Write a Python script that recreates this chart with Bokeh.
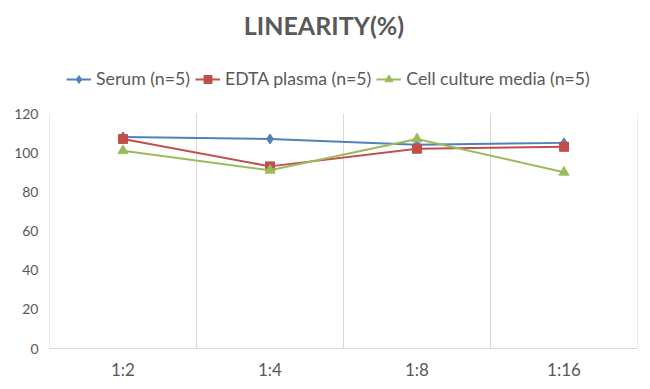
from bokeh.plotting import figure
from bokeh.models import Legend, LegendItem, FixedTicker, Label
from bokeh.embed import file_html
from bokeh.resources import INLINE

categories = ["1:2", "1:4", "1:8", "1:16"]
serum = [108, 107, 104, 105]
edta = [107, 93, 102, 103]
cell = [101, 91, 107, 90]
series_names = ["Serum (n=5)", "EDTA plasma (n=5)", "Cell culture media (n=5)"]
y_ticks = [0, 20, 40, 60, 80, 100, 120]
title_text = "LINEARITY(%)"

FONT = "Lato"
GRAY = "#595959"
GRID = "#D9D9D9"

n = len(categories)
xs = [i + 0.5 for i in range(n)]
bounds = list(range(n + 1))

# frame spans the whole height; the value axis occupies the lower 235 px of 348 px
PLOT_H, VALUE_H = 348, 235
y_top = y_ticks[-1] * PLOT_H / VALUE_H

p = figure(width=645, height=382, x_range=(0, n), y_range=(0, y_top),
           output_backend="svg", toolbar_location=None,
           min_border_left=49, min_border_right=8, min_border_bottom=34, min_border_top=0)
p.outline_line_color = None
p.background_fill_color = "white"
p.border_fill_color = "white"

p.xgrid.grid_line_color = None
p.ygrid.grid_line_color = None
# category separators limited to the value range
p.segment(x0=bounds, y0=[y_ticks[0]] * len(bounds), x1=bounds, y1=[y_ticks[-1]] * len(bounds),
          line_color=GRID, line_width=1)

p.xaxis.ticker = FixedTicker(ticks=xs)
p.xaxis.major_label_overrides = {x: c for x, c in zip(xs, categories)}
p.yaxis.ticker = FixedTicker(ticks=y_ticks)
p.yaxis.bounds = (y_ticks[0], y_ticks[-1])
for ax in (p.xaxis, p.yaxis):
    ax.major_tick_line_color = None
    ax.minor_tick_line_color = None
    ax.major_tick_out = 0
    ax.major_tick_in = 0
    ax.major_label_text_font = FONT
    ax.major_label_text_color = GRAY
p.xaxis.major_label_text_font_size = "17px"
p.yaxis.major_label_text_font_size = "14px"
p.xaxis.axis_line_color = GRID
p.yaxis.axis_line_color = None
p.xaxis.major_label_standoff = 10
p.yaxis.major_label_standoff = 11

colors = ["#4F81BD", "#C0504D", "#9BBB59"]
markers = ["diamond", "square", "triangle"]
sizes = [10, 9, 10]
items = []
for vals, name, col, mk, sz in zip([serum, edta, cell], series_names, colors, markers, sizes):
    l = p.line(xs, vals, line_color=col, line_width=2)
    s = p.scatter(xs, vals, marker=mk, size=sz, fill_color=col, line_color=col)
    items.append(LegendItem(label=name, renderers=[l, s]))

# title, placed in data units above the value range
p.add_layout(Label(x=1.867, y=165.3, text=title_text,
                   text_font=FONT, text_font_size="25px", text_font_style="bold",
                   text_color=GRAY, text_align="center", text_baseline="middle"))

legend = Legend(items=items, orientation="horizontal", location=(17, 259),
                label_text_font=FONT, label_text_font_size="17.7px", label_text_color=GRAY,
                border_line_color=None, background_fill_alpha=0,
                glyph_width=25, spacing=5, label_standoff=5, padding=0, margin=0)
p.add_layout(legend)

open("out.html", "w").write(file_html(p, INLINE))
